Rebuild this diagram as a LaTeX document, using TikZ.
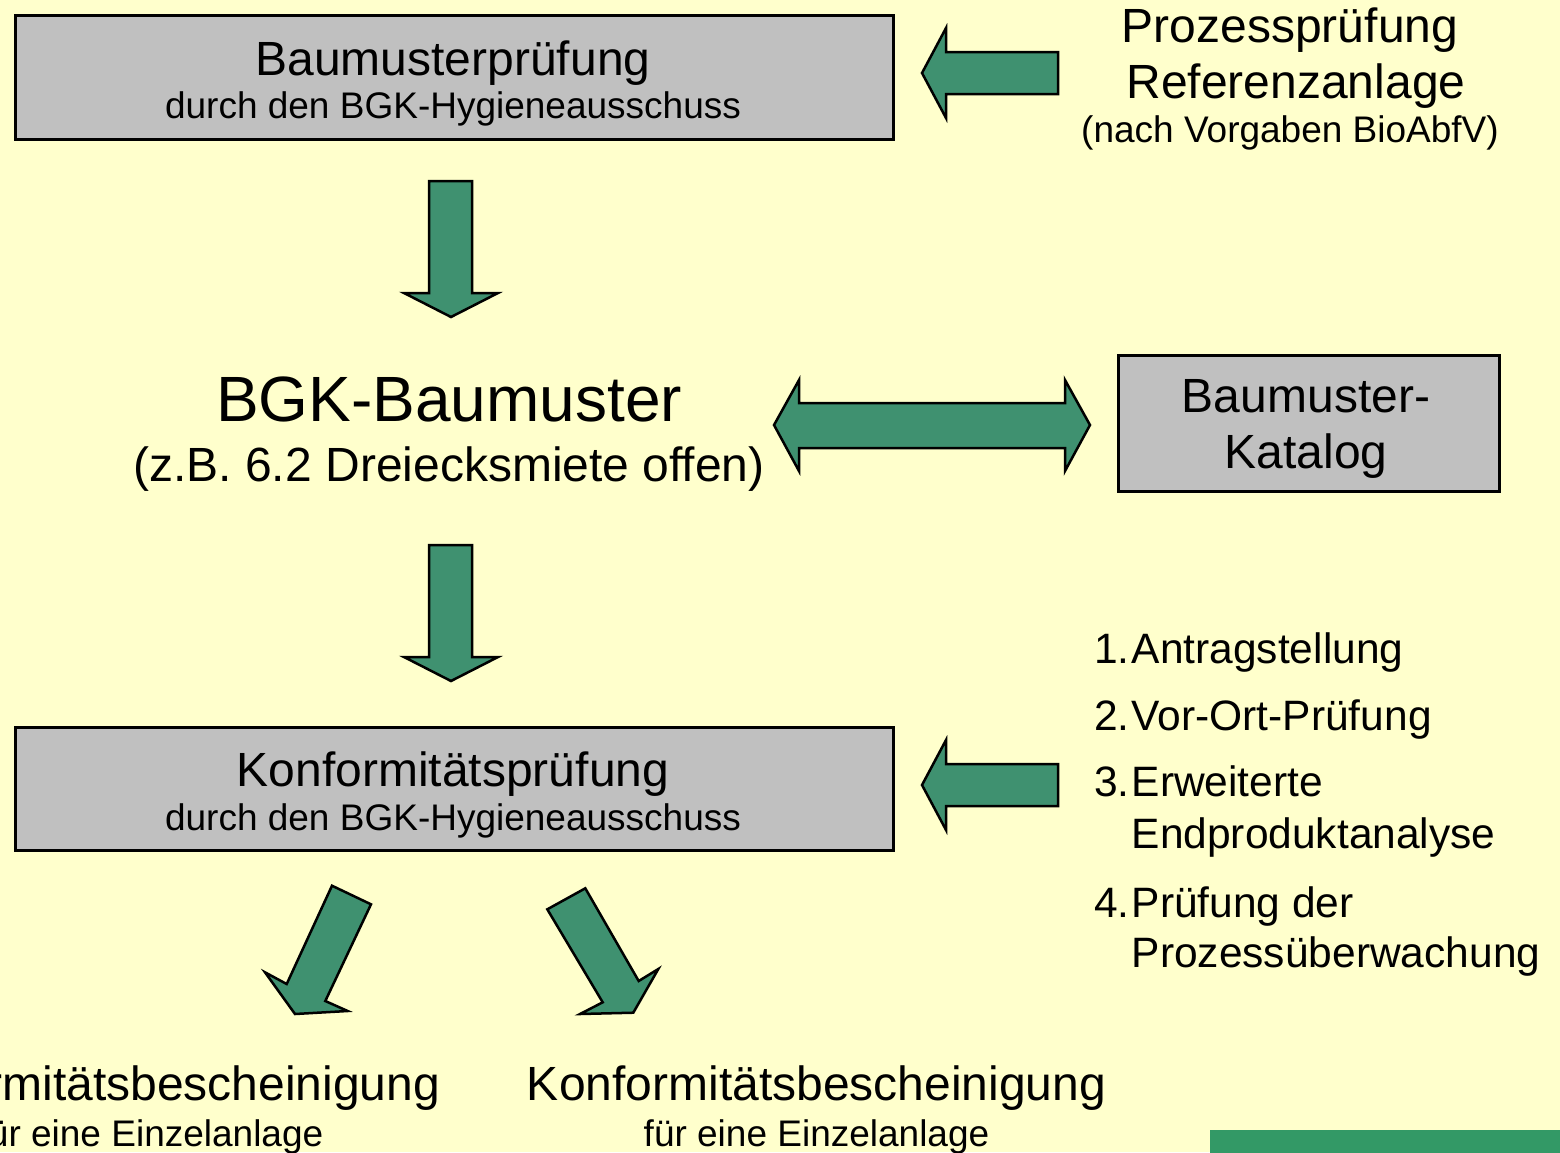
\documentclass[tikz,border=0pt]{standalone}
\usepackage{fontspec}
\setmainfont{Liberation Sans}
\definecolor{bgyellow}{HTML}{FFFFCC}
\definecolor{boxgrey}{HTML}{C0C0C0}
\definecolor{arrowgreen}{HTML}{3F9170}
\definecolor{logogreen}{HTML}{339966}
\begin{document}
\begin{tikzpicture}[x=1pt,y=-1pt,
  box/.style={draw=black,line width=2.5pt,fill=boxgrey,inner sep=0pt,anchor=north west},
  blockarrow/.style={draw=black,line width=2.5pt,fill=arrowgreen,line join=miter},
  big/.style={font=\fontsize{48}{56}\selectfont,anchor=base,inner sep=0pt},
  small/.style={font=\fontsize{37}{44}\selectfont,anchor=base,inner sep=0pt},
  huge/.style={font=\fontsize{64}{74}\selectfont,anchor=base,inner sep=0pt},
  numl/.style={font=\fontsize{42.5}{50}\selectfont,anchor=base west,inner sep=0pt}]
\useasboundingbox (0,0) rectangle (1560,1152);
\clip (0,0) rectangle (1560,1152);
\fill[bgyellow] (0,0) rectangle (1560,1152);

% boxes
\node[box,minimum width=878pt,minimum height=124pt] (topbox) at (14,14) {};
\node[big] (t1a) at (453,75) {Baumusterprüfung};
\node[small] (t1b) at (453,118) {durch den BGK-Hygieneausschuss};

\node[box,minimum width=878pt,minimum height=123pt] (konbox) at (14,726) {};
\node[big] (k1a) at (453,786) {Konformitätsprüfung};
\node[small] (k1b) at (453,830) {durch den BGK-Hygieneausschuss};

\node[box,minimum width=381pt,minimum height=136pt] (katbox) at (1117,354) {};
\node[big] (kat1) at (1306,412) {Baumuster-};
\node[big] (kat2) at (1306,468) {Katalog};

% right top text
\node[big] (p1) at (1290,42) {Prozessprüfung};
\node[big] (p2) at (1296,98) {Referenzanlage};
\node[small] (p3) at (1290,142) {(nach Vorgaben BioAbfV)};

% middle text
\node[huge] (bgk1) at (449,421) {BGK-Baumuster};
\node[big] (bgk2) at (449,481) {(z.B. 6.2 Dreiecksmiete offen)};

% list
\node[numl] (n1) at (1094,663) {1.};
\node[numl] (l1) at (1131.5,663) {Antragstellung};
\node[numl] (n2) at (1094,730) {2.};
\node[numl] (l2) at (1131.5,730) {Vor-Ort-Prüfung};
\node[numl] (n3) at (1094,796) {3.};
\node[numl] (l3a) at (1131.5,796) {Erweiterte};
\node[numl] (l3b) at (1131.5,848) {Endproduktanalyse};
\node[numl] (n4) at (1094,917) {4.};
\node[numl] (l4a) at (1131.5,917) {Prüfung der};
\node[numl] (l4b) at (1131.5,967) {Prozessüberwachung};

% bottom texts
\node[big] (c1a) at (150.5,1100) {Konformitätsbescheinigung};
\node[small] (c1b) at (150.5,1146) {für eine Einzelanlage};
\node[big] (c2a) at (816.5,1100) {Konformitätsbescheinigung};
\node[small] (c2b) at (816.5,1146) {für eine Einzelanlage};

% logo box (clipped)
\node[fill=logogreen,inner sep=0pt,anchor=north west,minimum width=350pt,minimum height=30pt] (logo) at (1210,1130) {};

% block arrows
\draw[blockarrow] (922,73) -- (946,28) -- (946,52) -- (1058,52) -- (1058,94) -- (946,94) -- (946,118) -- cycle;
\draw[blockarrow] (922,785) -- (946,740) -- (946,764) -- (1058,764) -- (1058,806) -- (946,806) -- (946,830) -- cycle;
\draw[blockarrow] (429,181) -- (472,181) -- (472,293) -- (498,293) -- (451,317) -- (404,293) -- (429,293) -- cycle;
\draw[blockarrow] (429,545) -- (472,545) -- (472,657) -- (498,657) -- (451,681) -- (404,657) -- (429,657) -- cycle;
\draw[blockarrow] (774,425) -- (799,380) -- (799,403) -- (1065,403) -- (1065,380) -- (1090,425) -- (1065,471) -- (1065,448) -- (799,448) -- (799,471) -- cycle;
\draw[blockarrow] (332,885.7) -- (371,904.3) -- (325.3,1001) -- (347.7,1011) -- (295,1014) -- (265,972.3) -- (286.7,984) -- cycle;
\draw[blockarrow] (547.3,909.3) -- (585.3,888.3) -- (638.7,981) -- (658.3,969) -- (633.3,1012.7) -- (580,1014) -- (602.7,1002.3) -- cycle;
\end{tikzpicture}
\end{document}
